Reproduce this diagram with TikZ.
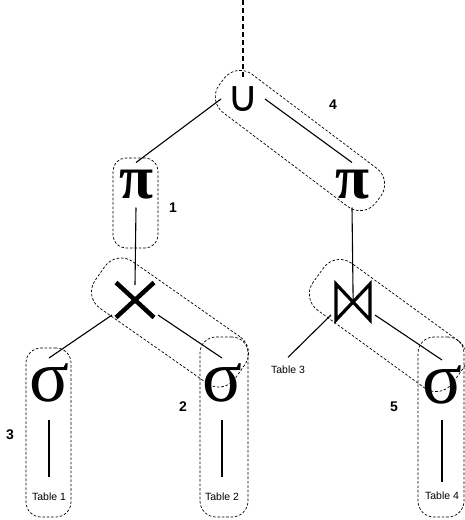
\documentclass[tikz,border=0pt]{standalone}
\usepackage{fontspec}
\setmainfont{Liberation Sans}
\newfontfamily\symfont{Liberation Serif}
\newfontfamily\dvfont{DejaVu Sans}
\begin{document}
\begin{tikzpicture}[x=1pt,y=-1pt,
  grp/.style={draw, dash pattern=on 2.6pt off 1.8pt, line width=0.7pt, inner sep=0pt},
  conn/.style={line width=1.1pt},
  glyph/.style={inner sep=0pt, outer sep=0pt},
  num/.style={font=\fontsize{14}{14}\selectfont\bfseries},
  tbl/.style={font=\fontsize{10.5}{10.5}\selectfont, inner sep=1pt},
  pisym/.style={font=\fontsize{62}{62}\selectfont\symfont\bfseries},
  sigsym/.style={font=\fontsize{74}{74}\selectfont\symfont},
  cupsym/.style={font=\fontsize{43}{43}\selectfont\dvfont},
]
\useasboundingbox (0,0) rectangle (465,520);

% operator nodes
\node[glyph, cupsym, minimum width=44, minimum height=44] (u) at (243,99) {∪};
\node[glyph, pisym, minimum height=45] (p1) at (136,185) {π};
\node[glyph, pisym, minimum height=45] (p2) at (352,185) {π};
\node[glyph, minimum width=46, minimum height=30] (x) at (135,300) {};
\node[glyph, minimum width=44, minimum height=26] (b) at (353,302) {};
\node[glyph, sigsym, minimum height=50] (s1) at (49,383) {σ};
\node[glyph, sigsym, minimum height=50] (s2) at (222,383) {σ};
\node[glyph, sigsym, minimum height=50] (s4) at (442,385) {σ};

% tables
\node[tbl] (t1) at (49,497) {Table 1};
\node[tbl] (t2) at (222,497) {Table 2};
\node[tbl] (t3) at (288,370) {Table 3};
\node[tbl] (t4) at (442,496) {Table 4};

% cross and bowtie glyphs
\draw[line width=4.5pt] ([shift={(-19,-17.5)}]x.center) -- ([shift={(19,17.5)}]x.center);
\draw[line width=4.5pt] ([shift={(-19,17.5)}]x.center) -- ([shift={(19,-17.5)}]x.center);
\draw[line width=3.2pt, line join=miter]
  ([shift={(-17,-18)}]b.center) -- ([shift={(-17,18)}]b.center)
  -- ([shift={(17,-18)}]b.center) -- ([shift={(17,18)}]b.center) -- cycle;

% group outlines
\node[grp, rounded corners=20, minimum width=196, minimum height=48, rotate=-37] (g4) at (300,140.5) {};
\node[grp, rounded corners=20, minimum width=171, minimum height=57, rotate=-35] (g2) at (170,322.5) {};
\node[grp, rounded corners=20, minimum width=172, minimum height=58, rotate=-36] (g5) at (388,325.5) {};
\node[grp, rounded corners=13, minimum width=45, minimum height=90] (g1) at (135.5,203) {};
\node[grp, rounded corners=15, minimum width=45, minimum height=169] (g3) at (48.5,432.5) {};
\node[grp, rounded corners=16, minimum width=48, minimum height=180] (g2b) at (224,427) {};
\node[grp, rounded corners=16, minimum width=46, minimum height=180] (g5b) at (441,427) {};

% labels
\node[num] (l1) at (173,208) {1};
\node[num] (l2) at (183,407) {2};
\node[num] (l3) at (10,435) {3};
\node[num] (l4) at (333,105) {4};
\node[num] (l5) at (394,407) {5};

% connectors
\coordinate (top) at (243,0);
\draw[dash pattern=on 5pt off 3pt, line width=1.2pt] (top) -- (u.north);
\draw[conn] (u.west) -- (p1.north);
\draw[conn] (u.east) -- (p2.north);
\draw[conn] (p1.south) -- (x.north);
\draw[conn] (x.south west) -- (s1.north);
\draw[conn] (x.south east) -- (s2.north);
\draw[conn, shorten <=12pt, shorten >=14.6pt] (s1.south) -- (t1.north);
\draw[conn, shorten <=12pt, shorten >=14.6pt] (s2.south) -- (t2.north);
\draw[conn, shorten >=-11pt] (p2.south) -- (b.north);
\draw[conn] (b.south west) -- ([yshift=7.6pt]t3.north);
\draw[conn] (b.south east) -- (s4.north);
\draw[conn, shorten <=10pt, shorten >=8.6pt] (s4.south) -- (t4.north);
\end{tikzpicture}
\end{document}
